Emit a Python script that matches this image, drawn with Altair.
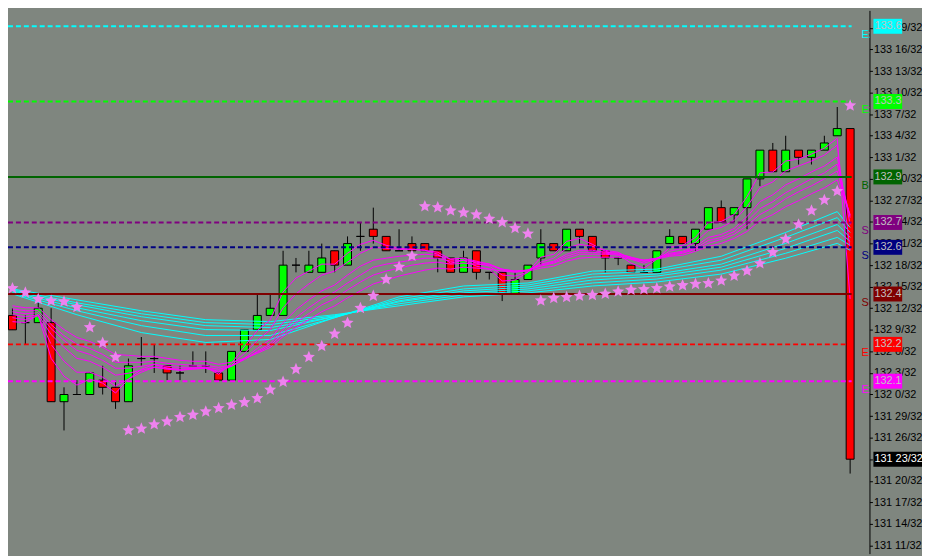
import altair as alt
import pandas as pd

# ---------------- data ----------------
BAR = list(range(66))

OPEN = [132.34375, 132.3125, 132.3125, 132.3125, 131.96875, 132.0, 132.0, 132.0625, 132.03125, 131.96875,
        132.15625, 132.15625, 132.125, 132.09375, 132.125, 132.125, 132.09375, 132.0625, 132.1875, 132.28125,
        132.34375, 132.34375, 132.5625, 132.53125, 132.53125, 132.625, 132.5625, 132.6875, 132.71875, 132.6875,
        132.625, 132.65625, 132.65625, 132.625, 132.59375, 132.53125, 132.625, 132.53125, 132.53125, 132.4375,
        132.5, 132.59375, 132.65625, 132.625, 132.71875, 132.6875, 132.625, 132.59375, 132.5625, 132.53125,
        132.53125, 132.65625, 132.6875, 132.65625, 132.71875, 132.8125, 132.78125, 132.8125, 132.9375, 133.0625,
        132.96875, 133.0625, 133.03125, 133.0625, 133.125, 133.15625]
HIGH = [132.375, 132.34375, 132.40625, 132.375, 132.03125, 132.0625, 132.09375, 132.125, 132.0625, 132.15625,
        132.25, 132.21875, 132.125, 132.125, 132.1875, 132.1875, 132.09375, 132.1875, 132.28125, 132.4375,
        132.4375, 132.625, 132.59375, 132.625, 132.65625, 132.625, 132.6875, 132.75, 132.8125, 132.6875,
        132.71875, 132.6875, 132.65625, 132.625, 132.59375, 132.625, 132.625, 132.53125, 132.53125, 132.53125,
        132.5625, 132.71875, 132.65625, 132.71875, 132.71875, 132.6875, 132.625, 132.59375, 132.5625, 132.5625,
        132.625, 132.71875, 132.6875, 132.71875, 132.8125, 132.84375, 132.8125, 132.9375, 133.0625, 133.09375,
        133.125, 133.0625, 133.0625, 133.125, 133.25, 133.15625]
LOW = [132.28125, 132.21875, 132.3125, 131.96875, 131.84375, 132.0, 132.0, 132.0, 131.9375, 131.96875,
       132.125, 132.09375, 132.0625, 132.0625, 132.125, 132.09375, 132.0625, 132.0625, 132.1875, 132.28125,
       132.34375, 132.34375, 132.53125, 132.53125, 132.53125, 132.53125, 132.5625, 132.625, 132.65625, 132.625,
       132.625, 132.625, 132.625, 132.53125, 132.53125, 132.53125, 132.5, 132.5, 132.40625, 132.4375,
       132.5, 132.5625, 132.625, 132.625, 132.65625, 132.625, 132.53125, 132.5625, 132.53125, 132.53125,
       132.53125, 132.65625, 132.65625, 132.625, 132.71875, 132.75, 132.75, 132.71875, 132.90625, 132.96875,
       132.96875, 133.0, 133.0, 133.0625, 133.125, 131.65625]
CLOSE = [132.28125, 132.3125, 132.375, 131.96875, 132.0, 132.0, 132.09375, 132.03125, 131.96875, 132.125,
         132.15625, 132.15625, 132.09375, 132.09375, 132.125, 132.125, 132.0625, 132.1875, 132.28125, 132.34375,
         132.375, 132.5625, 132.5625, 132.5625, 132.59375, 132.5625, 132.65625, 132.6875, 132.6875, 132.625,
         132.625, 132.625, 132.625, 132.59375, 132.53125, 132.59375, 132.53125, 132.53125, 132.4375, 132.5,
         132.5625, 132.65625, 132.625, 132.71875, 132.6875, 132.625, 132.59375, 132.59375, 132.53125, 132.53125,
         132.625, 132.6875, 132.65625, 132.71875, 132.8125, 132.75, 132.8125, 132.9375, 133.0625, 132.96875,
         133.0625, 133.03125, 133.0625, 133.09375, 133.15625, 131.71875]

SAR = [132.4620, 132.4431, 132.4146, 132.4073, 132.4043, 132.3801, 132.2922, 132.2250, 132.1629, 131.8439,
       131.8513, 131.8698, 131.8827, 131.9017, 131.9116, 131.9258, 131.9405, 131.9547, 131.9663, 131.9836,
       132.0207, 132.0551, 132.1099, 132.1629, 132.2103, 132.2638, 132.3112, 132.3758, 132.4288, 132.5008,
       132.5551, 132.6025, 132.8181, 132.8138, 132.7995, 132.7909, 132.7823, 132.7638, 132.7491, 132.7232,
       132.6991, 132.4086, 132.4189, 132.4232, 132.4288, 132.4319, 132.4375, 132.4474, 132.4547, 132.4577,
       132.4620, 132.4689, 132.4750, 132.4806, 132.4836, 132.4948, 132.5163, 132.5379, 132.5698, 132.6185,
       132.6758, 132.7392, 132.7995, 132.8457, 132.8844, 133.2564]

# short-term ribbon (magenta)
MA3 = [132.3168, 132.3125, 132.3469, 132.1573, 132.0797, 132.0409, 132.0668, 132.0496, 132.0065, 132.0668,
       132.1099, 132.1314, 132.1142, 132.1056, 132.1142, 132.1185, 132.0883, 132.1358, 132.2090, 132.2780,
       132.3254, 132.4461, 132.5064, 132.5366, 132.5668, 132.5668, 132.6142, 132.6530, 132.6702, 132.6486,
       132.6357, 132.6314, 132.6271, 132.6099, 132.5711, 132.5840, 132.5581, 132.5452, 132.4935, 132.4978,
       132.5323, 132.5969, 132.6099, 132.6659, 132.6788, 132.6530, 132.6228, 132.6099, 132.5711, 132.5495,
       132.5883, 132.6400, 132.6486, 132.6831, 132.7478, 132.7521, 132.7823, 132.8599, 132.9634, 132.9677,
       133.0151, 133.0237, 133.0453, 133.0711, 133.1142, 132.4159]
MA5 = [132.3340, 132.3254, 132.3426, 132.2176, 132.1444, 132.0970, 132.0970, 132.0754, 132.0366, 132.0668,
       132.0970, 132.1185, 132.1099, 132.1056, 132.1099, 132.1142, 132.0970, 132.1271, 132.1789, 132.2349,
       132.2823, 132.3771, 132.4375, 132.4806, 132.5193, 132.5366, 132.5754, 132.6142, 132.6400, 132.6357,
       132.6314, 132.6314, 132.6271, 132.6185, 132.5883, 132.5926, 132.5711, 132.5581, 132.5193, 132.5150,
       132.5323, 132.5754, 132.5926, 132.6357, 132.6530, 132.6443, 132.6271, 132.6185, 132.5883, 132.5711,
       132.5883, 132.6228, 132.6357, 132.6616, 132.7133, 132.7262, 132.7564, 132.8167, 132.8987, 132.9246,
       132.9720, 132.9935, 133.0151, 133.0410, 133.0841, 132.6271]
MA8 = [132.3469, 132.3383, 132.3469, 132.2607, 132.2047, 132.1573, 132.1444, 132.1185, 132.0840, 132.0927,
       132.1056, 132.1185, 132.1142, 132.1099, 132.1142, 132.1142, 132.1013, 132.1228, 132.1573, 132.2004,
       132.2392, 132.3125, 132.3685, 132.4116, 132.4504, 132.4762, 132.5193, 132.5581, 132.5840, 132.5926,
       132.6012, 132.6055, 132.6099, 132.6055, 132.5883, 132.5926, 132.5797, 132.5668, 132.5409, 132.5323,
       132.5409, 132.5668, 132.5797, 132.6099, 132.6271, 132.6271, 132.6185, 132.6142, 132.5969, 132.5797,
       132.5926, 132.6142, 132.6228, 132.6443, 132.6831, 132.6961, 132.7219, 132.7736, 132.8383, 132.8686,
       132.9117, 132.9375, 132.9677, 132.9935, 133.0323, 132.7392]
MA10 = [132.3599, 132.3513, 132.3556, 132.2866, 132.2349, 132.1918, 132.1744, 132.1487, 132.1142, 132.1142,
        132.1228, 132.1314, 132.1228, 132.1185, 132.1185, 132.1185, 132.1099, 132.1228, 132.1530, 132.1875,
        132.2220, 132.2823, 132.3340, 132.3771, 132.4159, 132.4461, 132.4849, 132.5193, 132.5538, 132.5668,
        132.5754, 132.5840, 132.5926, 132.5926, 132.5797, 132.5840, 132.5754, 132.5668, 132.5452, 132.5366,
        132.5409, 132.5624, 132.5754, 132.6012, 132.6185, 132.6185, 132.6142, 132.6099, 132.5969, 132.5840,
        132.5926, 132.6099, 132.6185, 132.6357, 132.6702, 132.6831, 132.7090, 132.7521, 132.8081, 132.8383,
        132.8772, 132.9073, 132.9375, 132.9634, 133.0022, 132.7693]
MA12 = [132.3728, 132.3642, 132.3642, 132.3038, 132.2564, 132.2176, 132.2004, 132.1745, 132.1401, 132.1401,
        132.1401, 132.1444, 132.1358, 132.1314, 132.1271, 132.1271, 132.1185, 132.1271, 132.1530, 132.1832,
        132.2133, 132.2651, 132.3125, 132.3513, 132.3900, 132.4159, 132.4547, 132.4892, 132.5193, 132.5366,
        132.5495, 132.5624, 132.5711, 132.5754, 132.5668, 132.5711, 132.5668, 132.5624, 132.5452, 132.5366,
        132.5409, 132.5581, 132.5711, 132.5926, 132.6099, 132.6099, 132.6099, 132.6055, 132.5926, 132.5840,
        132.5926, 132.6055, 132.6142, 132.6314, 132.6573, 132.6745, 132.6961, 132.7348, 132.7823, 132.8124,
        132.8513, 132.8815, 132.9073, 132.9375, 132.9720, 132.7779]
MA15 = [132.3857, 132.3771, 132.3771, 132.3254, 132.2823, 132.2478, 132.2306, 132.2047, 132.1745, 132.1702,
        132.1659, 132.1659, 132.1573, 132.1487, 132.1444, 132.1444, 132.1314, 132.1401, 132.1573, 132.1789,
        132.2047, 132.2521, 132.2909, 132.3254, 132.3599, 132.3857, 132.4202, 132.4504, 132.4806, 132.4978,
        132.5150, 132.5280, 132.5409, 132.5495, 132.5452, 132.5538, 132.5495, 132.5452, 132.5366, 132.5323,
        132.5366, 132.5495, 132.5581, 132.5797, 132.5926, 132.5969, 132.5969, 132.5969, 132.5883, 132.5797,
        132.5883, 132.6012, 132.6055, 132.6228, 132.6443, 132.6573, 132.6788, 132.7090, 132.7564, 132.7823,
        132.8167, 132.8426, 132.8729, 132.8987, 132.9332, 132.7823]

# long-term ribbon (cyan), read at these bars
LONG_BAR = [0, 5, 10, 15, 20, 25, 30, 35, 40, 45, 50, 55, 60, 64, 65]
MA30 = [132.4375, 132.3469, 132.2694, 132.2263, 132.2392, 132.3340, 132.4245, 132.4719, 132.4849, 132.5366,
        132.5452, 132.6012, 132.7047, 132.7952, 132.7262]
MA35 = [132.4418, 132.3642, 132.2995, 132.2564, 132.2564, 132.3340, 132.4159, 132.4590, 132.4762, 132.5237,
        132.5366, 132.5840, 132.6831, 132.7693, 132.7047]
MA40 = [132.4461, 132.3771, 132.3211, 132.2823, 132.2780, 132.3383, 132.4073, 132.4504, 132.4676, 132.5107,
        132.5237, 132.5668, 132.6573, 132.7392, 132.6831]
MA45 = [132.4504, 132.3900, 132.3383, 132.2995, 132.2909, 132.3383, 132.4030, 132.4418, 132.4590, 132.4978,
        132.5150, 132.5538, 132.6357, 132.7133, 132.6659]
MA50 = [132.4547, 132.3987, 132.3513, 132.3125, 132.3038, 132.3426, 132.3944, 132.4332, 132.4504, 132.4849,
        132.5021, 132.5409, 132.6142, 132.6831, 132.6486]
MA60 = [132.4590, 132.4116, 132.3642, 132.3254, 132.3168, 132.3469, 132.3857, 132.4245, 132.4418, 132.4719,
        132.4892, 132.5237, 132.5926, 132.6573, 132.6271]

LEVEL_PRICE = [133.601, 133.274, 132.946, 132.748, 132.640, 132.437, 132.218, 132.058]
LEVEL_LABEL = ["133.6", "133.3", "132.9", "132.7", "132.6", "132.4", "132.2", "132.1"]
LEVEL_NAME = ["Exit", "Exit", "Buy", "Stop", "Stop", "Sell", "Exit", "Exit"]
LEVEL_COLOR = ["#00FFFF", "#00FF00", "#006400", "#800080", "#000080", "#800000", "#FF0000", "#FF00FF"]
LEVEL_STYLE = ["dash", "dash", "solid", "dash", "dash", "solid", "dash", "dash"]

LAST_PRICE = [131.71875]
LAST_LABEL = ["131 23/32"]

TICK_LABELS = ["133 19/32", "133 16/32", "133 13/32", "133 10/32", "133 7/32", "133 4/32", "133 1/32",
               "132 30/32", "132 27/32", "132 24/32", "132 21/32", "132 18/32", "132 15/32", "132 12/32",
               "132 9/32", "132 6/32", "132 3/32", "132 0/32", "131 29/32", "131 26/32", "131 23/32",
               "131 20/32", "131 17/32", "131 14/32", "131 11/32"]


def parse32(s):
    whole, frac = s.split(" ")
    return int(whole) + int(frac.split("/")[0]) / 32


TICK_VALUES = [parse32(s) for s in TICK_LABELS]

# ---------------- tables ----------------
candles = pd.DataFrame({"i": BAR, "open": OPEN, "high": HIGH, "low": LOW, "close": CLOSE})
candles["dir"] = ["up" if c > o else ("down" if c < o else "flat") for o, c in zip(OPEN, CLOSE)]
sar = pd.DataFrame({"i": BAR, "sar": SAR})

short_rows = []
for name, vals in [("3", MA3), ("5", MA5), ("8", MA8), ("10", MA10), ("12", MA12), ("15", MA15)]:
    for i, v in zip(BAR, vals):
        short_rows.append({"i": i, "series": name, "ma": v})
short_df = pd.DataFrame(short_rows)

long_rows = []
for name, vals in [("30", MA30), ("35", MA35), ("40", MA40), ("45", MA45), ("50", MA50), ("60", MA60)]:
    for i, v in zip(LONG_BAR, vals):
        long_rows.append({"i": i, "series": name, "ma": v})
long_df = pd.DataFrame(long_rows)

levels = pd.DataFrame({"price": LEVEL_PRICE, "label": LEVEL_LABEL, "name": LEVEL_NAME,
                       "color": LEVEL_COLOR, "style": LEVEL_STYLE})
last = pd.DataFrame({"price": LAST_PRICE, "label": LAST_LABEL})

# ---------------- scales ----------------
W, H = 869, 548
xscale = alt.Scale(domain=[-0.34615, 66.5], nice=False, zero=False, padding=0)
yscale = alt.Scale(domain=[131.3082, 133.6702], nice=False, zero=False, padding=0)
yaxis = alt.Axis(orient="right", values=TICK_VALUES, grid=False, title=None,
                 labelExpr="floor(datum.value) + ' ' + round((datum.value - floor(datum.value)) * 32) + '/32'",
                 domainColor="black", domainWidth=1, tickColor="black", tickSize=3, tickWidth=1,
                 labelPadding=1, labelFont="Liberation Sans", labelFontSize=11, labelColor="black",
                 labelOverlap=False, labelAlign="left", labelBaseline="middle")


def X():
    return alt.X("i:Q", scale=xscale, axis=None, title=None)


def Y(field):
    return alt.Y(f"{field}:Q", scale=yscale, axis=yaxis, title=None)


def Y2(field):
    return alt.Y2(f"{field}:Q")


BOX = "M-1,-0.52L1,-0.52L1,0.52L-1,0.52Z"
BOX_WIDE = "M-1,-0.265L1,-0.265L1,0.265L-1,0.265Z"
STAR = ("M0,-1L0.2645,-0.3641L0.9511,-0.309L0.428,0.1391L0.5878,0.809L0,0.45"
        "L-0.5878,0.809L-0.428,0.1391L-0.9511,-0.309L-0.2645,-0.3641Z")

wicks = alt.Chart(candles).mark_rule(color="black", strokeWidth=1).encode(
    x=X(), y=Y("low"), y2=Y2("high"))

bodies = alt.Chart(candles).mark_bar(size=8, stroke="black", strokeWidth=1).encode(
    x=X(), y=Y("open"), y2=Y2("close"),
    color=alt.Color("dir:N", scale=alt.Scale(domain=["up", "down", "flat"],
                                             range=["#00FF00", "#FF0000", "#000000"]), legend=None))

long_lines = alt.Chart(long_df).mark_line(color="#00FFFF", strokeWidth=1).encode(
    x=X(), y=Y("ma"), detail="series:N")

short_lines = alt.Chart(short_df).mark_line(color="#FF00FF", strokeWidth=1).encode(
    x=X(), y=Y("ma"), detail="series:N")

lvl_dash = alt.Chart(levels).transform_filter(alt.datum.style == "dash").mark_rule(
    strokeWidth=2, strokeDash=[5, 3]).encode(
    x=alt.value(0), x2=alt.value(851), y=Y("price"),
    color=alt.Color("color:N", scale=None))

lvl_solid = alt.Chart(levels).transform_filter(alt.datum.style == "solid").mark_rule(
    strokeWidth=2).encode(
    x=alt.value(0), x2=alt.value(851), y=Y("price"),
    color=alt.Color("color:N", scale=None))

stars = alt.Chart(sar).mark_point(shape=STAR, filled=True, size=165, opacity=1,
                                  color="#EE82EE", strokeWidth=0).encode(x=X(), y=Y("sar"))

lvl_names = alt.Chart(levels).mark_text(align="left", baseline="middle", dy=9, fontSize=11,
                                        font="Liberation Sans", clip=True).encode(
    x=alt.value(861), y=Y("price"), text="name:N", color=alt.Color("color:N", scale=None))

lvl_boxes = alt.Chart(levels).mark_point(shape=BOX, filled=True, size=841, opacity=1,
                                         strokeWidth=0).encode(
    x=alt.value(887.5), y=Y("price"), color=alt.Color("color:N", scale=None))

lvl_text = alt.Chart(levels).mark_text(align="left", baseline="middle", fontSize=11,
                                       font="Liberation Sans", color="#C0C0C0").encode(
    x=alt.value(874), y=Y("price"), text="label:N")

last_box = alt.Chart(last).mark_point(shape=BOX_WIDE, filled=True, size=3249, opacity=1,
                                      strokeWidth=0, color="black").encode(
    x=alt.value(901.5), y=Y("price"))

last_text = alt.Chart(last).mark_text(align="left", baseline="middle", fontSize=11,
                                      font="Liberation Sans", color="white").encode(
    x=alt.value(874), y=Y("price"), text="label:N")

chart = alt.layer(
    wicks, bodies, long_lines, short_lines, lvl_dash, lvl_solid, stars,
    lvl_names, lvl_boxes, lvl_text, last_box, last_text
).properties(
    width=W, height=H,
    background="#7f867f",
    padding={"left": 0, "top": 0, "right": 53, "bottom": 0},
    autosize=alt.AutoSizeParams(type="none"),
).configure_view(stroke=None)

chart.save("out.html", embed_options={"renderer": "svg", "actions": False})
